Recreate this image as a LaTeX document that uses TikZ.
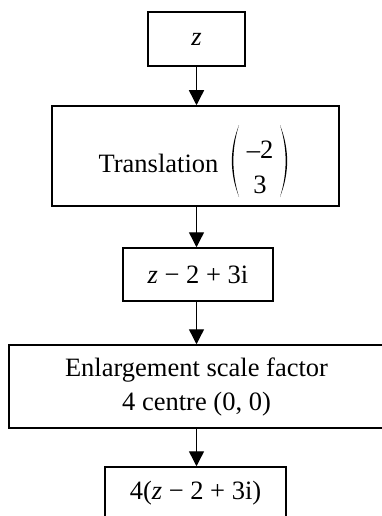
\documentclass[tikz,border=0pt]{standalone}
\usepackage{fontspec}
\setmainfont{Liberation Serif}
\usetikzlibrary{arrows.meta}
\begin{document}
\begin{tikzpicture}[x=1pt,y=-1pt,
  box/.style={draw=black,line width=1.5pt,inner sep=0pt,align=center,
    font=\fontsize{26.5}{34}\selectfont},
  txt/.style={inner sep=0pt,anchor=base,font=\fontsize{26.5}{34}\selectfont},
  flow/.style={line width=1.4pt,-{Triangle[width=15pt,length=15pt]}}]
\useasboundingbox (0,0) rectangle (382,516);
\node[box,minimum width=97pt,minimum height=54pt] (n1) at (196.5,39) {\textit{z}};
\node[box,minimum width=287pt,minimum height=100pt] (n2) at (195.5,156) {};
\node[txt] (tr) at (158.5,172) {Translation};
\node[txt] (va) at (260,158) {–2};
\node[txt] (vb) at (260,193) {3};
\fill (239,125) .. controls (229.5,149) and (229.5,173) .. (239,197)
  .. controls (231.5,173) and (231.5,149) .. (239,125) -- cycle;
\fill (280,125) .. controls (289.5,149) and (289.5,173) .. (280,197)
  .. controls (287.5,173) and (287.5,149) .. (280,125) -- cycle;
\node[box,minimum width=150pt,minimum height=53pt] (n3) at (198,274.5)
  {\textit{z} − 2 + 3i};
\node[box,minimum width=375pt,minimum height=83pt] (n4) at (196.5,386.5)
  {Enlargement scale factor\\4 centre (0, 0)};
\node[box,minimum width=181pt,minimum height=52pt] (n5) at (195.5,493)
  {4(\textit{z} − 2 + 3i)};
\draw[flow] (n1.south -| 196.5,0) -- (n2.north -| 196.5,0);
\draw[flow] (n2.south -| 196.5,0) -- (n3.north -| 196.5,0);
\draw[flow] (n3.south -| 196.5,0) -- (n4.north -| 196.5,0);
\draw[flow] (n4.south -| 196.5,0) -- (n5.north -| 196.5,0);
\end{tikzpicture}
\end{document}
